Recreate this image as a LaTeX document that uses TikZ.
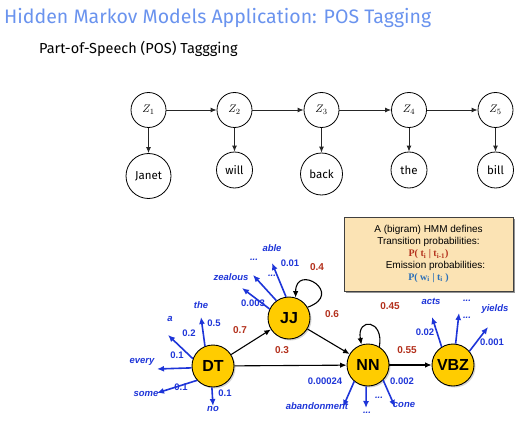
\documentclass[tikz,border=0pt]{standalone}
\usepackage{fontspec}
\setmainfont{Fira Sans}
\newfontfamily\hvfont{Liberation Sans}
\newfontfamily\tmfont{Liberation Serif}
\usepackage{tikz}
\usetikzlibrary{positioning,arrows.meta,shadows}
\definecolor{titleblue}{HTML}{6A93EE}
\definecolor{tagyellow}{HTML}{FFCC00}
\definecolor{emitblue}{HTML}{1E35D8}
\definecolor{transred}{HTML}{B3301C}
\definecolor{boxtan}{HTML}{FBE3B4}
\definecolor{ptblue}{HTML}{2A6FB8}

\begin{document}
\begin{tikzpicture}[x=1pt, y=1pt,
    hidden/.style={circle, draw, line width=0.8pt, minimum size=35pt, inner sep=0pt, font=\fontsize{11}{13}\selectfont},
    obs/.style={circle, draw, line width=0.8pt, minimum size=36pt, inner sep=0pt, font=\fontsize{11.5}{13}\selectfont},
    chain/.style={-{Latex[length=6pt,width=5pt]}, line width=0.9pt, black!85},
    tag/.style={circle, draw, line width=0.9pt, fill=tagyellow, minimum size=42pt, inner sep=0pt,
      font=\hvfont\bfseries\fontsize{16}{18}\selectfont,
      drop shadow={shadow xshift=1.5pt, shadow yshift=-1.5pt, opacity=0.35}},
    trans/.style={-{Latex[length=6.5pt,width=5.5pt]}, line width=1.1pt},
    emit/.style={-{Latex[length=7pt,width=6pt]}, line width=1.6pt, emitblue},
    word/.style={font=\hvfont\bfseries\itshape\fontsize{9.5}{11}\selectfont, text=emitblue, inner sep=0pt},
    eprob/.style={font=\hvfont\bfseries\fontsize{9.5}{11}\selectfont, text=emitblue, inner sep=0pt},
    tprob/.style={font=\hvfont\bfseries\fontsize{10}{12}\selectfont, text=transred, inner sep=0pt}]
    \useasboundingbox (0,0) rectangle (526,426);
    \node[anchor=base west, inner sep=0pt, text=titleblue, font=\fontsize{19.5}{23}\selectfont] (title) at (4,402.5) {Hidden Markov Models Application: POS Tagging};
    \node[anchor=base west, inner sep=0pt, font=\fontsize{14.5}{17}\selectfont] (subtitle) at (39,372) {Part-of-Speech (POS) Taggging};

    \node[hidden] (Z1) at (148.5,316) {$Z_1$};
    \node[hidden] (Z2) at (234.5,316) {$Z_2$};
    \node[hidden] (Z3) at (321.5,316) {$Z_3$};
    \node[hidden] (Z4) at (409,316) {$Z_4$};
    \node[hidden] (Z5) at (495.5,316) {$Z_5$};
    \node[obs, minimum size=45pt] (w1) at (148.5,250) {Janet};
    \node[obs] (w2) at (234.5,256) {will};
    \node[obs, minimum size=42pt] (w3) at (321.5,252) {back};
    \node[obs] (w4) at (409,256) {the};
    \node[obs] (w5) at (495.5,256) {bill};
    \foreach \i/\j in {1/2,2/3,3/4,4/5}
      \draw[chain] (Z\i) -- (Z\j);
    \foreach \i in {1,...,5}
      \draw[chain] (Z\i) -- (w\i);

    \node[tag] (DT) at (213,60) {DT};
    \node[tag] (JJ) at (289,108) {JJ};
    \node[tag] (NN) at (368,61) {NN};
    \node[tag] (VBZ) at (453,61) {VBZ};

    \node[draw=black!75, line width=0.8pt, fill=boxtan, minimum width=169pt, minimum height=74pt,
      align=center, font=\hvfont\fontsize{10}{11.8}\selectfont,
      drop shadow={shadow xshift=2pt, shadow yshift=-2pt, fill=black!70, opacity=0.6}] (hmmbox) at (428.5,172)
      {A (bigram) HMM defines\\ Transition probabilities:\\
       {\tmfont\bfseries\color{transred}P( t\textsubscript{i} | t\textsubscript{i-1})}\\
       \hspace*{14pt}Emission probabilities:\\
       {\tmfont\bfseries\color{ptblue}P( w\textsubscript{i} | t\textsubscript{i} )}};

    \node[word] (la) at (170,107) {a};
    \node[word] (lthe) at (201,121) {the};
    \node[word] (levery) at (142,64) {every};
    \node[word] (lsome) at (146,32) {some};
    \node[word] (lno) at (213,17) {no};
    \node[eprob] (pa) at (189,93) {0.2};
    \node[eprob] (pthe) at (214,103) {0.5};
    \node[eprob] (pevery) at (177,71) {0.1};
    \node[eprob] (psome) at (181,39) {0.1};
    \node[eprob] (pno) at (225,33) {0.1};

    \node[word] (lzealous) at (231,149) {zealous};
    \node[word] (ljdots) at (254,166) {...};
    \node[word] (ljdots2) at (272,150) {...};
    \node[word] (lable) at (272,178) {able};
    \node[eprob] (pzealous) at (253,123) {0.003};
    \node[eprob] (pable) at (290,163) {0.01};

    \node[word] (laband) at (317,20) {abandonment};
    \node[word] (lndots) at (367,13) {...};
    \node[word] (lndots2) at (379,28) {...};
    \node[word] (lcone) at (404,21) {cone};
    \node[eprob] (paband) at (325,45) {0.00024};
    \node[eprob] (pcone) at (402,45) {0.002};

    \node[word] (lacts) at (431,125) {acts};
    \node[word] (lvdots) at (467,125) {...};
    \node[word] (lvdots2) at (467,108) {...};
    \node[word] (lyields) at (495,117) {yields};
    \node[eprob] (pacts) at (425,94) {0.02};
    \node[eprob] (pyields) at (492,84) {0.001};

    \coordinate (ta) at (168,91);
    \coordinate (tthe) at (201,109);
    \coordinate (tevery) at (157,57);
    \coordinate (tsome) at (157,33);
    \coordinate (tno) at (213,20);
    \draw[emit] (DT.160) -- (ta);
    \draw[emit] (DT.112) -- (tthe);
    \draw[emit] (DT.185) -- (tevery);
    \draw[emit] (DT.222) -- (tsome);
    \draw[emit] (DT.267) -- (tno);

    \coordinate (tzealous) at (242,138);
    \coordinate (tjdots) at (253,151);
    \coordinate (table) at (272,163);
    \draw[emit] (JJ.155) -- (tzealous);
    \draw[emit] (JJ.126) -- (tjdots);
    \draw[emit] (JJ.98) -- (table);

    \coordinate (taband) at (343,19);
    \coordinate (tndots) at (366,18);
    \coordinate (tcone) at (395,19);
    \draw[emit] (NN.230) -- (taband);
    \draw[emit] (NN.265) -- (tndots);
    \draw[emit] (NN.315) -- (tcone);

    \coordinate (tacts) at (432,109);
    \coordinate (tvdots) at (459,113);
    \coordinate (tyields) at (488,99);
    \draw[emit] (VBZ.122) -- (tacts);
    \draw[emit] (VBZ.83) -- (tvdots);
    \draw[emit] (VBZ.40) -- (tyields);

    \draw[trans] (DT) -- (JJ);
    \draw[trans] (DT) -- (NN);
    \draw[trans] (JJ) -- (NN);
    \draw[trans] (NN) -- (VBZ);
    \draw[trans] (JJ.30) .. controls +(20:40) and +(90:35) .. (JJ.72);
    \draw[trans] (NN.58) .. controls +(80:28) and +(100:28) .. (NN.108);
    \node[tprob] (p07) at (240,96) {0.7};
    \node[tprob] (p03) at (282,76) {0.3};
    \node[tprob] (p06) at (332,112) {0.6};
    \node[tprob] (p04) at (317,159) {0.4};
    \node[tprob] (p045) at (390,120) {0.45};
    \node[tprob] (p055) at (407,76) {0.55};
\end{tikzpicture}
\end{document}
